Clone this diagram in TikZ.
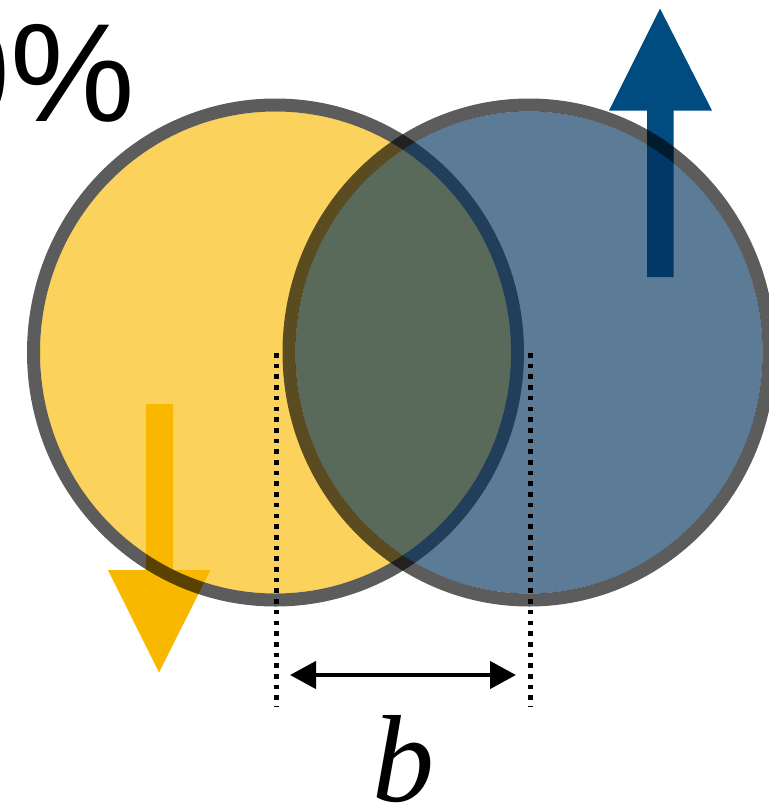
\documentclass[tikz,border=0pt]{standalone}
\usepackage{fontspec}
\setmainfont{Liberation Serif}
\newfontfamily\pctfont{Liberation Sans}
\usetikzlibrary{arrows.meta}
\definecolor{myyellow}{HTML}{F8B800}
\definecolor{myblue}{HTML}{004B80}
\definecolor{mybluefill}{HTML}{00305A}
\tikzset{
  discfill/.style={fill opacity=0.64},
  discline/.style={line width=13pt, draw=black, draw opacity=0.64},
  dotline/.style={line width=5pt, dash pattern=on 4.6pt off 6.1pt},
  dimarrow/.style={line width=4.5pt, {Triangle[length=26pt,width=27pt]}-{Triangle[length=26pt,width=27pt]}}
}
\begin{document}
\begin{tikzpicture}[x=1pt,y=-1pt]
\useasboundingbox (0,0) rectangle (769,807);
% spin arrows (under the discs)
\fill[myblue] (647,277) -- (647,110.5) -- (609,110.5) -- (660,8.5) -- (712,110.5) -- (673.5,110.5) -- (673.5,277) -- cycle;
\fill[myyellow] (146,404) -- (146,570) -- (108,570) -- (159,672.5) -- (210.5,570) -- (173,570) -- (173,404) -- cycle;
% discs
\coordinate (cy) at (275.5,352.5);
\coordinate (cb) at (529,352.5);
\fill[discfill, myyellow] (cy) ellipse [x radius=235.5, y radius=241];
\draw[discline] (cy) ellipse [x radius=242, y radius=247.5];
\fill[discfill, mybluefill] (cb) ellipse [x radius=233.5, y radius=241];
\draw[discline] (cb) ellipse [x radius=240, y radius=247.5];
% percentage text
\node[anchor=base east, inner sep=0pt, font=\pctfont\fontsize{140}{140}\selectfont] (pct) at (135,121) {0\%};
% dotted guides
\coordinate (d1t) at (276,353);
\coordinate (d1b) at (276,707);
\coordinate (d2t) at (530,353);
\coordinate (d2b) at (530,707);
\draw[dotline] (d1t) -- (d1b);
\draw[dotline] (d2t) -- (d2b);
% dimension arrow
\coordinate (a1) at (290,675);
\coordinate (a2) at (516,675);
\draw[dimarrow] (a1) -- (a2);
\node[anchor=base, inner sep=0pt, font=\itshape\fontsize{124}{124}\selectfont] (lb) at (403,801) {b};
\end{tikzpicture}
\end{document}
